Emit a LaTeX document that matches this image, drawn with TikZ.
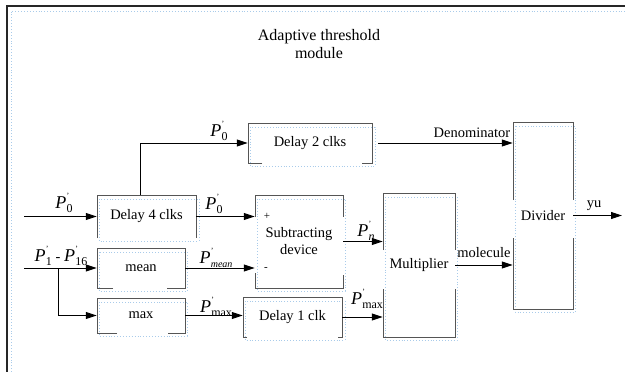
\documentclass[tikz,border=0pt]{standalone}
\usepackage{fontspec}
\setmainfont{Liberation Serif}
\usetikzlibrary{arrows.meta}

% signal label: italic P with a prime and a subscript
\newcommand{\Psig}[1]{{\fontsize{18}{18}\selectfont\itshape P}\hspace{0.3pt}\rlap{\raisebox{10pt}{\fontsize{8}{8}\selectfont '}}\raisebox{-4pt}{\fontsize{12}{12}\selectfont #1}}

\definecolor{edgegray}{HTML}{555555}
\definecolor{framedot}{HTML}{A9CBEA}

\begin{document}
\begin{tikzpicture}[x=1pt,y=-1pt,
  every node/.style={font=\fontsize{14.5}{17}\selectfont},
  block/.style={inner sep=0pt, draw=none, align=center},
  edge/.style={draw=edgegray, line width=1pt, line join=miter},
  textframe/.style={draw=framedot, line width=0.9pt, dotted},
  arr/.style={draw=black, line width=1pt, -{Triangle[length=11pt,width=7pt]}},
  sig/.style={inner sep=0pt}]

\useasboundingbox (0,0) rectangle (625,372);

% outer module frame
\draw[textframe] (11,372) -- (11,11) -- (625,11);
\draw[edge, line width=1.4pt, draw=black!85] (7,372) -- (7,6) -- (625,6);

\node[align=center, font=\fontsize{16}{18}\selectfont] (title) at (319,44) {Adaptive threshold\\module};

% dotted text frames of the blocks
\draw[textframe] (99,199) rectangle (199,241);
\draw[textframe] (99,252) rectangle (187,291);
\draw[textframe] (99,302) rectangle (187,336);
\draw[textframe] (250,127) rectangle (375,166);
\draw[textframe] (257,199) rectangle (345,291);
\draw[textframe] (245,301) rectangle (345,340);
\draw[textframe] (385,197) rectangle (457,340);
\draw[textframe] (515,126) rectangle (575,312);

% block outlines (parts hidden behind the labels are left open)
\draw[edge] (97,238) -- (97,195) -- (196,195) -- (196,238);
\draw[edge] (113,288) -- (97,288) -- (97,248) -- (185,248) -- (185,288) -- (167,288);
\draw[edge] (117,333) -- (97,333) -- (97,298) -- (185,298) -- (185,333) -- (168,333);
\draw[edge] (262,163) -- (248,163) -- (248,123) -- (372,123) -- (372,163) -- (362,163);
\draw[edge] (255,217) -- (255,195) -- (343,195) -- (343,217);
\draw[edge] (255,273) -- (255,288) -- (343,288) -- (343,275);
\draw[edge] (247,337) -- (243,337) -- (243,297) -- (342,297) -- (342,337) -- (338,337);
\draw[edge] (383,250) -- (383,193) -- (455,193) -- (455,250);
\draw[edge] (383,289) -- (383,337) -- (455,337) -- (455,289);
\draw[edge] (513,200) -- (513,122) -- (573,122) -- (573,200);
\draw[edge] (513,238) -- (513,309) -- (573,309) -- (573,238);

% blocks
\node[block, minimum width=99pt, minimum height=43pt] (d4) at (146.5,216.5) {Delay 4 clks};
\node[block, minimum width=88pt, minimum height=40pt] (mean) at (141,268) {mean};
\node[block, minimum width=88pt, minimum height=35pt] (max) at (141,315.5) {max};
\node[block, minimum width=124pt, minimum height=40pt] (d2) at (310,143) {Delay 2 clks};
\node[block, minimum width=88pt, minimum height=93pt] (sub) at (299,241.5) {Subtracting\\device};
\node[block, minimum width=99pt, minimum height=40pt] (d1) at (292.5,317) {Delay 1 clk};
\node[block, minimum width=72pt, minimum height=144pt] (mul) at (419,265) {Multiplier};
\node[block, minimum width=60pt, minimum height=187pt] (div) at (543,215.5) {Divider};

\node[sig, font=\fontsize{11}{11}\selectfont] (plus) at (267,216) {+};
\node[sig, font=\fontsize{11}{11}\selectfont] (minus) at (266,269) {-};

% inputs and output ends
\coordinate (in0) at (24,216.5);
\coordinate (in1) at (24,268);
\coordinate (br) at (58,268);
\coordinate (out) at (622,215.5);

% connectors
\draw[arr] (in0) -- (d4.west);
\draw[arr] (in1) -- (mean.west);
\draw[arr] (br) |- (max.west);
\draw[arr] ([xshift=-6.5pt]d4.north) |- (d2.west);
\draw[arr] (d4.east) -- (sub.west |- d4.east);
\draw[arr] (mean.east) -- (sub.west |- mean.east);
\draw[arr] (max.east) -- (d1.west |- max.east);
\draw[arr] (sub.east) -- (mul.west |- sub.east);
\draw[arr] (d1.east) -- (mul.west |- d1.east);
\draw[arr] ([xshift=6pt]d2.east) -- (div.west |- d2.east);
\draw[arr] (mul.east) -- (div.west |- mul.east);
\draw[arr] (div.east) -- (out);

% signal labels
\node[sig] (lp0a) at (64,203) {\Psig{0}};
\node[sig] (lp0b) at (219,131) {\Psig{0}};
\node[sig] (lp0c) at (214,204) {\Psig{0}};
\node[sig] (lp116) at (61,256) {\Psig{1} - \Psig{16}};
\node[sig] (lpmean) at (216,258) {\Psig{\fontsize{10}{10}\selectfont\itshape mean}};
\node[sig] (lpmax) at (216,307) {\Psig{max}};
\node[sig] (lpn) at (366,231) {\Psig{\itshape n}};
\node[sig] (lpmax2) at (367,299) {\Psig{max}};
\node[sig] (den) at (472,133) {Denominator};
\node[sig] (mol) at (484,253) {molecule};
\node[sig] (yu) at (594,206) {yu};

\end{tikzpicture}
\end{document}
